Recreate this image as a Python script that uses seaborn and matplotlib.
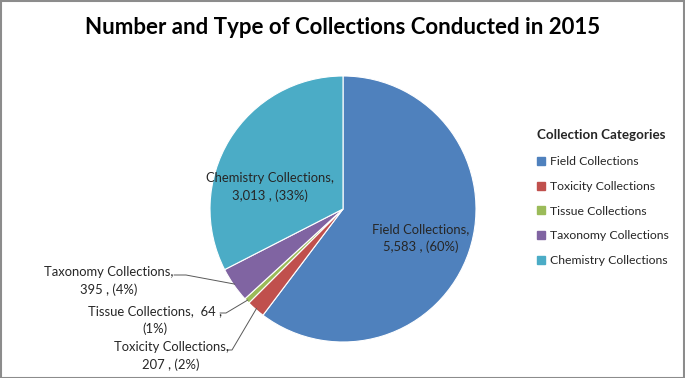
import numpy as np
import matplotlib
matplotlib.use("Agg")
import matplotlib.pyplot as plt
import seaborn as sns
from matplotlib.patches import Rectangle
from matplotlib.lines import Line2D

categories = ["Field Collections", "Toxicity Collections", "Tissue Collections",
              "Taxonomy Collections", "Chemistry Collections"]
counts = [5583, 207, 64, 395, 3013]
percent_labels = ["60%", "2%", "1%", "4%", "33%"]
colors = ["#4F81BD", "#C0504D", "#9BBB59", "#8064A2", "#4BACC6"]
title = "Number and Type of Collections Conducted in 2015"
legend_title = "Collection Categories"

sns.set_theme(style="white")
plt.rcParams["font.family"] = ["Lato", "DejaVu Sans"]

W, H = 685, 378
fig = plt.figure(figsize=(W / 100, H / 100), dpi=100)
ax = fig.add_axes([0, 0, 1, 1])

cx, cy, r = 343, 169, 133
wedges, _ = ax.pie(counts, colors=sns.color_palette(colors), startangle=90,
                   counterclock=False, center=(cx, cy), radius=r,
                   wedgeprops=dict(edgecolor="white", linewidth=0.8), frame=True)
ax.set_xlim(0, W)
ax.set_ylim(0, H)
ax.set_aspect("equal")
ax.axis("off")

txt_color = "#262626"
fs = 9.4
ls = 1.5

def fmt(i):
    return f"{counts[i]:,}"

# inside labels
ax.text(421, H - 238, f"{categories[0]},\n{fmt(0)} , ({percent_labels[0]})",
        ha="center", va="center", fontsize=fs, color=txt_color, linespacing=ls)
ax.text(270, H - 187, f"{categories[4]},\n{fmt(4)} , ({percent_labels[4]})",
        ha="center", va="center", fontsize=fs, color=txt_color, linespacing=ls)

def edge_point(w, frac=0.5, rr=None):
    th = np.deg2rad(w.theta1 + (w.theta2 - w.theta1) * frac)
    rr = r if rr is None else rr
    return cx + rr * np.cos(th), cy + rr * np.sin(th)

# outside labels with leader lines: (wedge, text center, leader start, label, horizontal len)
outside = [
    (3, (109, H - 281), (174, H - 275), f"{categories[3]},\n{fmt(3)} , ({percent_labels[3]})", 12),
    (2, (155, H - 320), (220, H - 313), f"Tissue Collections,  {fmt(2)} ,\n({percent_labels[2]})", 6),
    (1, (171, H - 356), (227, H - 350), f"{categories[1]},\n{fmt(1)} , ({percent_labels[1]})", 5),
]
for i, (tx, ty), (lx, ly), label, hl in outside:
    ax.text(tx, ty, label, ha="center", va="center", fontsize=fs, color=txt_color,
            linespacing=ls, multialignment="center")
    px, py = edge_point(wedges[i], 0.5, r * 0.99)
    ax.plot([lx, lx + hl, px], [ly, ly, py], color="#595959", lw=0.7)

# title
fig.text(0.5 * (88 + 597) / W, 1 - 27 / H, title, ha="center", va="center",
         fontsize=16, fontweight="bold", color="black")

# legend
handles = [Line2D([0], [0], marker="s", linestyle="none", markersize=6,
                  markerfacecolor=c, markeredgecolor=c) for c in colors]
leg = fig.legend(handles, categories, title=legend_title, loc="upper left",
                 bbox_to_anchor=(532 / W, 1 - 124 / H), frameon=False,
                 fontsize=8.8, title_fontproperties=dict(weight="bold", size=9.6),
                 handlelength=0.6, handletextpad=0.5, labelspacing=1.12,
                 borderaxespad=0, alignment="left")
leg._legend_box.sep = 11
for t in leg.get_texts():
    t.set_color(txt_color)

# border
fig.patches.append(Rectangle((0.5 / W, 0.5 / H), 1 - 1.5 / W, 1 - 1.5 / H,
                             transform=fig.transFigure, fill=False,
                             edgecolor="#8c8c8c", linewidth=1.5))

fig.savefig("out.png", dpi=100)
